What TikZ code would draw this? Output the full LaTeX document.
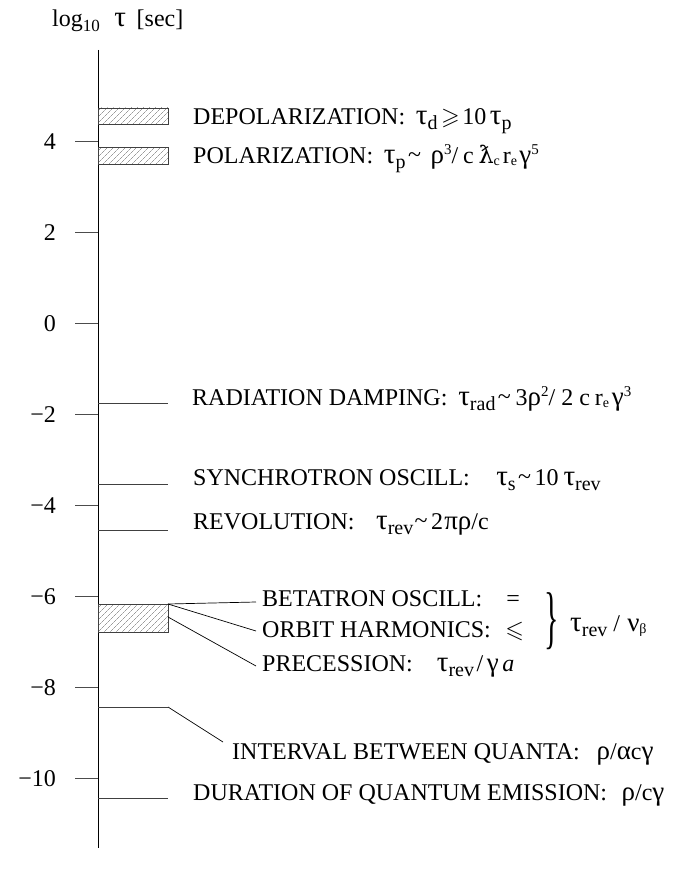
\documentclass[tikz,border=0pt]{standalone}
\usepackage{amssymb}
\usepackage{graphicx}
\usepackage{fontspec}
\setmainfont{Liberation Serif}
\newfontfamily\djs{DejaVu Serif}
\usetikzlibrary{patterns.meta}
\newcommand{\Lsub}[1]{\raisebox{-5pt}{\fontsize{20}{20}\selectfont #1}}
\newcommand{\Tsub}[1]{\raisebox{-2pt}{\fontsize{14}{14}\selectfont #1}}
\newcommand{\Sup}[1]{\raisebox{9pt}{\fontsize{15}{15}\selectfont #1}}
\newcommand{\tauG}{{\fontsize{29}{29}\selectfont τ}}
\newcommand{\gr}[1]{{\fontsize{27}{27}\selectfont #1}}
\newcommand{\tld}{\raisebox{1pt}{\textasciitilde}}
\begin{document}
\begin{tikzpicture}[x=1pt,y=-1pt,
  font=\fontsize{24}{28}\selectfont,
  axisline/.style={line width=1pt},
  tickline/.style={line width=1pt, black!70},
  markline/.style={line width=1pt, black!75},
  conn/.style={line width=0.7pt},
  hatchbar/.style={draw=black!75, line width=0.8pt,
    pattern={Lines[angle=45,distance=4pt,line width=0.45pt]}, pattern color=black!60},
  lbl/.style={anchor=base west, inner sep=0pt},
  ticklbl/.style={anchor=east, inner sep=0pt}]
\useasboundingbox (0,0) rectangle (673,869);

% title
\node[anchor=base west, inner sep=0pt] (title) at (52,27)
  {log\raisebox{-5pt}{\fontsize{17}{17}\selectfont 10}\hspace{0.6em}\tauG\hspace{0.45em}[sec]};

% axis
\coordinate (axtop) at (98,50);
\coordinate (axbot) at (98,848);
\draw[axisline] (axtop) -- (axbot);

% ticks and labels
\foreach \v/\yy/\lab in {4/141.5/4, 2/232.5/2, 0/323.5/0, m2/414.5/−2,
                          m4/505.5/−4, m6/596.5/−6, m8/687.5/−8, m10/778.5/−10}{
  \coordinate (tk\v) at (98,\yy);
  \coordinate (tl\v) at (75,\yy);
  \draw[tickline] (tk\v) -- (tl\v);
  \node[ticklbl] (lb\v) at (56,\yy) {\lab};
}

% hatched bars
\coordinate (dpA) at (98,108);  \coordinate (dpB) at (168,124.5);
\coordinate (poA) at (98,147.5);\coordinate (poB) at (168,164);
\coordinate (btA) at (98,604);  \coordinate (btB) at (168,632.5);
\draw[hatchbar] (dpA) rectangle (dpB);
\draw[hatchbar] (poA) rectangle (poB);
\draw[hatchbar] (btA) rectangle (btB);

% plain marker lines
\coordinate (rdA) at (98,403);  \coordinate (rdB) at (168,403);
\coordinate (syA) at (98,484);  \coordinate (syB) at (168,484);
\coordinate (rvA) at (98,530);  \coordinate (rvB) at (168,530);
\coordinate (duA) at (98,798);  \coordinate (duB) at (168,798);
\draw[markline] (rdA) -- (rdB);
\draw[markline] (syA) -- (syB);
\draw[markline] (rvA) -- (rvB);
\draw[markline] (duA) -- (duB);

% labels
\node[lbl] (depol) at (193,124.5)
  {DEPOLARIZATION:\hspace{0.45em}\tauG\Lsub{d}\hspace{0.15em}$\geqslant$\hspace{0.1em}10\hspace{0.15em}\tauG\Lsub{p}};
\node[lbl] (pol) at (193,164)
  {POLARIZATION:\hspace{0.45em}\tauG\Lsub{p}\hspace{0.1em}\tld\hspace{0.4em}\gr{ρ}\Sup{3}/\hspace{0.2em}c\hspace{0.2em}{\djs ƛ}\Tsub{c}\hspace{0.12em}r\Tsub{e}\hspace{0.1em}\gr{γ}\Sup{5}};
\node[lbl] (rad) at (192,405)
  {RADIATION DAMPING:\hspace{0.45em}\tauG\Lsub{rad}\hspace{0.1em}\tld\hspace{0.2em}3\gr{ρ}\Sup{2}/\hspace{0.25em}2\hspace{0.25em}c\hspace{0.2em}r\Tsub{e}\hspace{0.12em}\gr{γ}\Sup{3}};
\node[lbl] (syn) at (193,485)
  {SYNCHROTRON OSCILL:\hspace{1.1em}\tauG\Lsub{s}\hspace{0.1em}\tld\hspace{0.15em}10\hspace{0.2em}\tauG\Lsub{rev}};
\node[lbl] (rev) at (193,529.5)
  {REVOLUTION:\hspace{0.9em}\tauG\Lsub{rev}\hspace{0.05em}\tld\hspace{0.15em}2\hspace{0.05em}\gr{π}\gr{ρ}/c};
\node[lbl] (bet) at (262,606)
  {BETATRON OSCILL:\hspace{1em}=};
\node[lbl] (orb) at (262,637)
  {ORBIT HARMONICS:\hspace{0.6em}$\leqslant$};
\node[lbl] (pre) at (262,671)
  {PRECESSION:\hspace{1em}\tauG\Lsub{rev}\hspace{0.1em}/\hspace{0.15em}\gr{γ}\hspace{0.15em}\textit{a}};
\node[inner sep=0pt] (brace) at (552,621)
  {\scalebox{1}[2.3]{\fontsize{30}{30}\selectfont\}}};
\node[lbl] (nub) at (570,631)
  {\tauG\Lsub{rev}\hspace{0.25em}/\hspace{0.3em}\gr{ν}\Tsub{β}};
\node[lbl] (int) at (232,759)
  {INTERVAL BETWEEN QUANTA:\hspace{0.7em}\gr{ρ}/\gr{α}c\gr{γ}};
\node[lbl] (dur) at (193,800)
  {DURATION OF QUANTUM EMISSION:\hspace{0.6em}\gr{ρ}/c\gr{γ}};

% connectors
\coordinate (btTR) at (168,604);
\coordinate (btR)  at (168,617);
\coordinate (betE) at (256,602);
\coordinate (orbE) at (256,631);
\coordinate (preE) at (256,666);
\draw[conn] (btTR) -- (betE);
\draw[conn] (btTR) -- (orbE);
\draw[conn] (btR) -- (preE);

\coordinate (inA) at (98,707);
\coordinate (inB) at (168,707);
\coordinate (inC) at (223,742);
\draw[markline] (inA) -- (inB);
\draw[conn] (inB) -- (inC);
\end{tikzpicture}
\end{document}
